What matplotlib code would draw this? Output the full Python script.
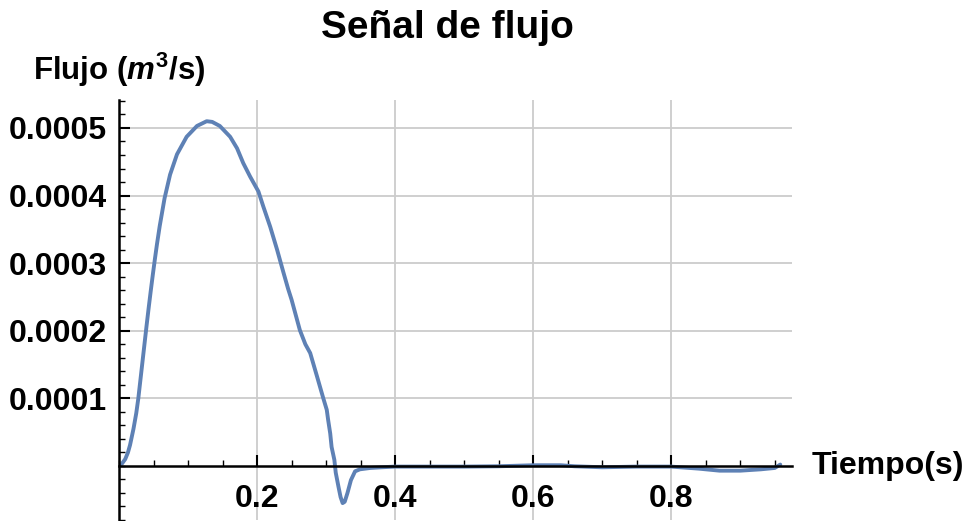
import matplotlib
matplotlib.use("Agg")
import matplotlib.pyplot as plt
import numpy as np
from matplotlib.ticker import MultipleLocator

# tiempo (s) y flujo (x1e-4 m^3/s)
tiempo = [0.000, 0.004, 0.009, 0.013, 0.016, 0.021, 0.025, 0.028, 0.031, 0.034,
          0.037, 0.040, 0.043, 0.046, 0.049, 0.052, 0.055, 0.059, 0.066, 0.074,
          0.084, 0.098, 0.113, 0.127, 0.135, 0.146, 0.161, 0.171, 0.180, 0.190,
          0.202, 0.209, 0.219, 0.229, 0.238, 0.245, 0.250, 0.262, 0.270, 0.277,
          0.287, 0.296, 0.301, 0.303, 0.306, 0.308, 0.312, 0.314, 0.318, 0.321,
          0.324, 0.327, 0.331, 0.336, 0.342, 0.349, 0.364, 0.380, 0.400, 0.450,
          0.500, 0.550, 0.600, 0.640, 0.660, 0.700, 0.750, 0.800, 0.840, 0.870,
          0.900, 0.930, 0.950, 0.958]
flujo_e4 = [0.00, 0.03, 0.10, 0.20, 0.31, 0.55, 0.78, 1.00, 1.27, 1.54,
            1.81, 2.08, 2.34, 2.59, 2.83, 3.06, 3.28, 3.55, 3.96, 4.31,
            4.61, 4.87, 5.03, 5.10, 5.09, 5.03, 4.87, 4.70, 4.48, 4.28,
            4.06, 3.84, 3.54, 3.20, 2.87, 2.62, 2.46, 2.01, 1.80, 1.67,
            1.32, 1.00, 0.83, 0.68, 0.48, 0.28, 0.09, -0.10, -0.31, -0.46,
            -0.55, -0.53, -0.40, -0.21, -0.08, -0.05, -0.03, -0.02, -0.01, -0.01,
            -0.01, -0.005, 0.01, 0.01, -0.005, -0.02, -0.01, -0.01, -0.04, -0.07,
            -0.07, -0.05, -0.03, 0.02]

xticks = [0.2, 0.4, 0.6, 0.8]
yticks = [0.0001, 0.0002, 0.0003, 0.0004, 0.0005]

plt.rcParams['font.family'] = ['Liberation Sans', 'DejaVu Sans']
plt.rcParams['font.weight'] = 'bold'
plt.rcParams['mathtext.fontset'] = 'custom'
plt.rcParams['mathtext.rm'] = 'Liberation Sans:bold'
plt.rcParams['mathtext.it'] = 'Liberation Sans:italic:bold'

fig = plt.figure(figsize=(9.71, 5.21), dpi=100)
ax = fig.add_axes([119 / 971, 1 / 521, 673 / 971, 420 / 521])

t = np.array(tiempo)
q = np.array(flujo_e4) * 1e-4
ax.plot(t, q, color='#5E81B5', lw=2.8, solid_capstyle='round',
        solid_joinstyle='round', zorder=3)

ax.set_xlim(0, 0.975)
ax.set_ylim(-0.0000800, 0.0005414)

# ejes cruzando en el origen
ax.spines['left'].set_position(('data', 0))
ax.spines['bottom'].set_position(('data', 0))
ax.spines['right'].set_visible(False)
ax.spines['top'].set_visible(False)
for s in ('left', 'bottom'):
    ax.spines[s].set_linewidth(1.8)
    ax.spines[s].set_zorder(4)

ax.set_xticks(xticks)
ax.set_xticklabels([f'{v:.1f}' for v in xticks])
ax.set_yticks(yticks)
ax.set_yticklabels([f'{v:.4f}' for v in yticks])
ax.xaxis.set_minor_locator(MultipleLocator(0.05))
ax.yaxis.set_minor_locator(MultipleLocator(0.00002))
ax.tick_params(which='major', direction='in', length=8, width=1.5,
               labelsize=23, pad=9)
ax.tick_params(which='minor', direction='in', length=4.5, width=1.0)
ax.tick_params(axis='x', which='major', pad=13)
for lbl in ax.get_xticklabels() + ax.get_yticklabels():
    lbl.set_fontweight('bold')

ax.grid(True, which='major', color='#cccccc', lw=1.3, zorder=0)

fig.text(447 / 971, 1 - 28 / 521, 'Señal de flujo', ha='center', va='center',
         fontsize=28, fontweight='bold')
fig.text(33 / 971, 1 - 70 / 521, r'Flujo ($m^3$/s)', ha='left', va='center',
         fontsize=22.5, fontweight='bold')
fig.text(812 / 971, 1 - 466 / 521, 'Tiempo(s)', ha='left', va='center',
         fontsize=23, fontweight='bold')

fig.savefig('out.png', dpi=100)
plt.close(fig)
